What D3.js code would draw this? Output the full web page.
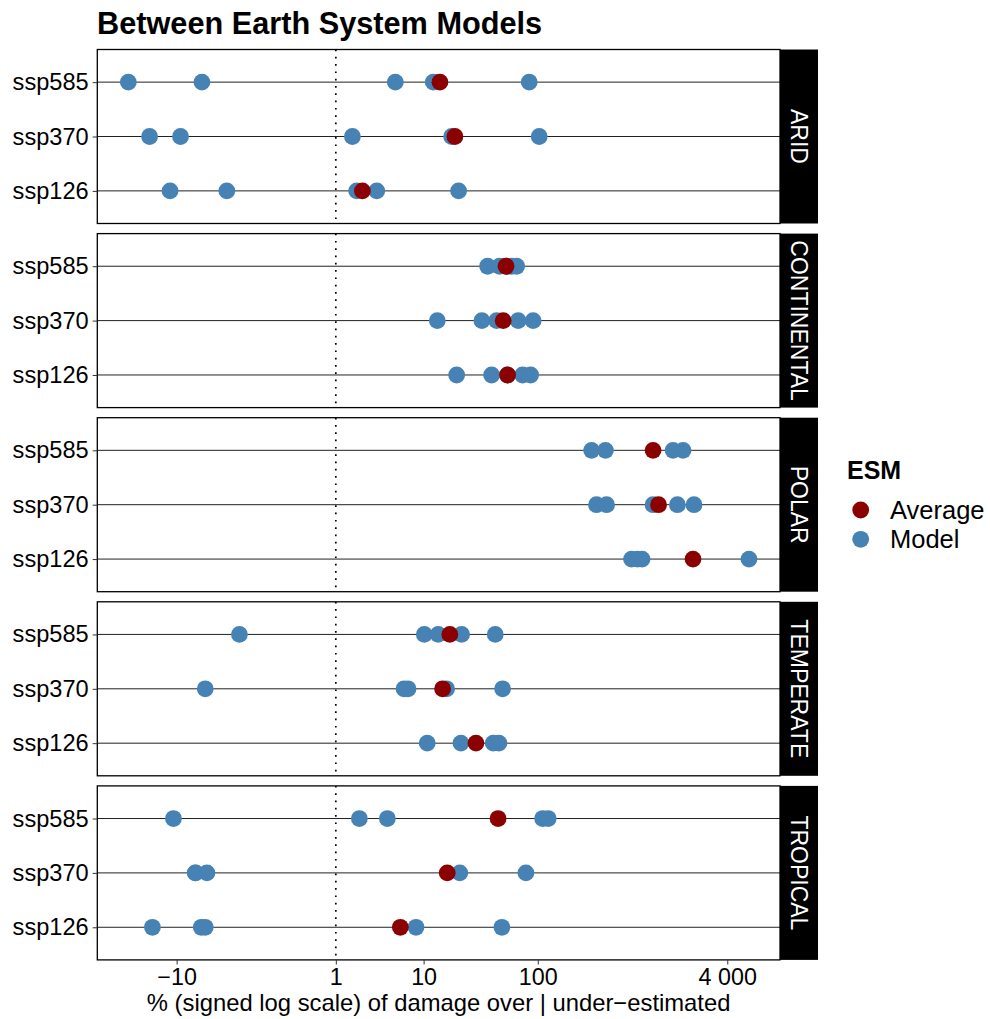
<!DOCTYPE html>
<html>
<head>
<meta charset="utf-8">
<script src="https://cdn.jsdelivr.net/npm/d3@7"></script>
<style>
  html, body { margin: 0; padding: 0; background: #fff; }
  svg { display: block; }
  text { font-family: "Liberation Sans", Arial, Helvetica, sans-serif; }
</style>
</head>
<body>
<svg id="chart" width="990" height="1019"></svg>
<script>
// ---------------- data ----------------
const regions = ["ARID", "CONTINENTAL", "POLAR", "TEMPERATE", "TROPICAL"];
const scenarios = ["ssp585", "ssp370", "ssp126"];
const xTickValues = [-10, 1, 10, 100, 4000];
const xTickLabels = ["\u221210", "1", "10", "100", "4 000"];
const legendKeys = ["Average", "Model"];

// model values per region, rows in the order of `scenarios`
const modelARID = [
  [-27.1, -5.73, 5.35, 12.27, 84.5],
  [-17.6, -9.2, 1.76, 17.97, 102.8],
  [-11.5, -3.15, 2.0, 3.43, 20.7]
];
const modelCONTINENTAL = [
  [37.1, 47, 54, 60, 66],
  [13.35, 33.1, 44.4, 68.0, 91.3],
  [19.9, 40.2, 55, 74.2, 86.9]
];
const modelPOLAR = [
  [286, 375, 1395, 1694],
  [315, 383, 946, 1519, 2097],
  [622, 700, 764, 6097]
];
const modelTEMPERATE = [
  [-2.25, 10.15, 13.6, 22.0, 43.2],
  [-5.31, 6.52, 7.13, 16.2, 50.0],
  [10.8, 21.7, 41.5, 46.5]
];
const modelTROPICAL = [
  [-10.7, 2.16, 4.44, 109.9, 122.6],
  [-6.67, -6.6, -5.11, 21.2, 79.2],
  [-16.6, -5.82, -5.31, 8.49, 49.3]
];
// ensemble averages per region, rows in the order of `scenarios`
const avgARID = [14.1, 19.2, 2.35];
const avgCONTINENTAL = [53.5, 50.6, 55.2];
const avgPOLAR = [946, 1052, 2056];
const avgTEMPERATE = [17.3, 14.9, 29.4];
const avgTROPICAL = [45.7, 16.4, 6.0];

const modelByRegion = [modelARID, modelCONTINENTAL, modelPOLAR, modelTEMPERATE, modelTROPICAL];
const avgByRegion = [avgARID, avgCONTINENTAL, avgPOLAR, avgTEMPERATE, avgTROPICAL];

// ---------------- layout ----------------
const colAvg = "#8B0000", colModel = "#4682B4";
const panelLeft = 97.3, panelRight = 780, stripW = 38;
const panelTop0 = 49.5, panelH = 174, panelStep = 184.1;
const pointR = 8.4;

const svg = d3.select("#chart");

// signed log transform
const tf = v => Math.sign(v) * Math.log10(Math.abs(v) + 1);
const tinv = t => Math.sign(t) * (Math.pow(10, Math.abs(t)) - 1);

const allVals = [];
modelByRegion.forEach(r => r.forEach(row => row.forEach(v => allVals.push(v))));
avgByRegion.forEach(r => r.forEach(v => allVals.push(v)));
const tmin = d3.min(allVals, tf), tmax = d3.max(allVals, tf);
const pad = (tmax - tmin) * 0.05;

const x = d3.scaleSymlog().constant(1)
  .domain([tinv(tmin - pad), tinv(tmax + pad)])
  .range([panelLeft, panelRight]);

const y = d3.scalePoint().domain(scenarios).range([0, panelH]).padding(0.6);

// title
svg.append("text")
  .attr("x", 97).attr("y", 33.5)
  .attr("font-size", 30.7).attr("font-weight", "bold")
  .attr("fill", "#000")
  .text("Between Earth System Models");

regions.forEach((reg, i) => {
  const top = panelTop0 + i * panelStep;
  const g = svg.append("g").attr("transform", `translate(0,${top})`);

  g.append("rect").attr("x", panelLeft).attr("y", 0)
    .attr("width", panelRight - panelLeft).attr("height", panelH)
    .attr("fill", "#fff");

  g.selectAll("line.row").data(scenarios).enter().append("line")
    .attr("x1", panelLeft).attr("x2", panelRight)
    .attr("y1", d => y(d)).attr("y2", d => y(d))
    .attr("stroke", "#222").attr("stroke-width", 1);

  g.append("line")
    .attr("x1", x(1)).attr("x2", x(1))
    .attr("y1", 0).attr("y2", panelH)
    .attr("stroke", "#000").attr("stroke-width", 1.7)
    .attr("stroke-dasharray", "1.7,5.6");

  const models = [];
  modelByRegion[i].forEach((row, j) => row.forEach(v => models.push({ s: scenarios[j], v })));
  g.selectAll("circle.model").data(models).enter().append("circle")
    .attr("cx", d => x(d.v)).attr("cy", d => y(d.s)).attr("r", pointR)
    .attr("fill", colModel);

  const avgs = avgByRegion[i].map((v, j) => ({ s: scenarios[j], v }));
  g.selectAll("circle.avg").data(avgs).enter().append("circle")
    .attr("cx", d => x(d.v)).attr("cy", d => y(d.s)).attr("r", pointR)
    .attr("fill", colAvg);

  g.append("rect").attr("x", panelLeft).attr("y", 0)
    .attr("width", panelRight - panelLeft).attr("height", panelH)
    .attr("fill", "none").attr("stroke", "#000").attr("stroke-width", 1.3);

  g.append("rect").attr("x", panelRight).attr("y", 0)
    .attr("width", stripW).attr("height", panelH).attr("fill", "#000");
  g.append("text")
    .attr("transform", `translate(${panelRight + stripW / 2},${panelH / 2}) rotate(90)`)
    .attr("text-anchor", "middle").attr("dominant-baseline", "central")
    .attr("font-size", 23).attr("fill", "#fff")
    .text(reg);

  const ya = d3.axisLeft(y).tickSize(4.6).tickPadding(4);
  const yg = g.append("g").attr("transform", `translate(${panelLeft},0)`).call(ya);
  yg.select(".domain").remove();
  yg.selectAll(".tick line").attr("stroke", "#333").attr("stroke-width", 1);
  yg.selectAll(".tick text").attr("font-size", 23.6).attr("fill", "#000")
    .attr("font-family", "Liberation Sans, Arial, sans-serif");
});

const bottom = panelTop0 + (regions.length - 1) * panelStep + panelH;
const xa = d3.axisBottom(x).tickValues(xTickValues)
  .tickFormat((d, i) => xTickLabels[i]).tickSize(4.6).tickPadding(4);
const xg = svg.append("g").attr("transform", `translate(0,${bottom})`).call(xa);
xg.select(".domain").remove();
xg.selectAll(".tick line").attr("stroke", "#333").attr("stroke-width", 1);
xg.selectAll(".tick text").attr("font-size", 23.3).attr("fill", "#000")
  .attr("font-family", "Liberation Sans, Arial, sans-serif");

svg.append("text")
  .attr("x", (panelLeft + panelRight) / 2).attr("y", 1011)
  .attr("text-anchor", "middle").attr("font-size", 23.8).attr("fill", "#000")
  .text("% (signed log scale) of damage over | under\u2212estimated");

const lg = svg.append("g");
lg.append("text").attr("x", 847).attr("y", 479)
  .attr("font-size", 25).attr("font-weight", "bold").attr("fill", "#000")
  .text("ESM");
const legendColors = [colAvg, colModel];
legendKeys.forEach((k, i) => {
  const cy = 510 + i * 29.3;
  lg.append("circle").attr("cx", 860.7).attr("cy", cy).attr("r", pointR).attr("fill", legendColors[i]);
  lg.append("text").attr("x", 890).attr("y", cy).attr("dominant-baseline", "central")
    .attr("font-size", 25.5).attr("fill", "#000").text(k);
});
</script>
</body>
</html>
